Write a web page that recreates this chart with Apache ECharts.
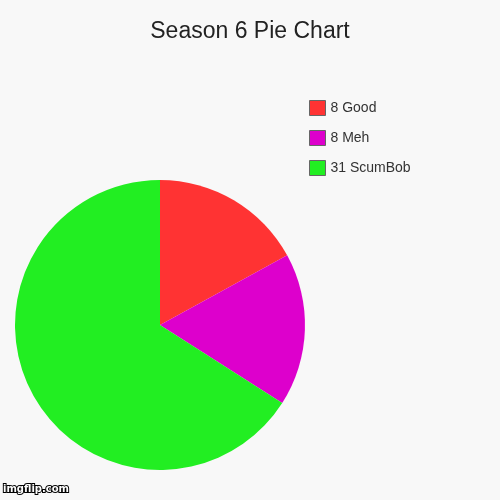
<!DOCTYPE html>
<html>
<head>
<meta charset="utf-8">
<script src="https://cdn.jsdelivr.net/npm/echarts@6/dist/echarts.min.js"></script>
<style>
    html, body { margin: 0; padding: 0; background: #f8f8f8; }
    #chart { width: 500px; height: 500px; }
</style>
</head>
<body>
<div id="chart"></div>
<script>
const categories = ['Good', 'Meh', 'ScumBob'];
const values = [8, 8, 31];
const colors = ['#ff3333', '#dd00cc', '#22ee22'];

document.addEventListener('DOMContentLoaded', function() {
    const chart = echarts.init(document.getElementById('chart'));

    const data = categories.map((name, i) => ({
        value: values[i],
        name: values[i] + ' ' + name,
        itemStyle: { color: colors[i] }
    }));

    const option = {
        backgroundColor: '#f8f8f8',
        animation: false,
        title: {
            text: 'Season 6 Pie Chart',
            left: 'center',
            top: 20,
            padding: 0,
            textStyle: {
                fontFamily: 'Liberation Sans',
                fontSize: 23,
                fontWeight: 'normal',
                color: '#222'
            }
        },
        legend: {
            orient: 'vertical',
            left: 309,
            top: 100,
            padding: 0,
            itemWidth: 16,
            itemHeight: 15,
            itemGap: 14,
            icon: 'rect',
            itemStyle: { borderColor: '#666', borderWidth: 1 },
            textStyle: {
                fontFamily: 'Liberation Sans',
                fontSize: 14,
                lineHeight: 15,
                color: '#333'
            },
            data: data.map(d => d.name)
        },
        series: [
            {
                type: 'pie',
                center: [160, 325],
                radius: 145,
                startAngle: 90,
                clockwise: true,
                label: { show: false },
                labelLine: { show: false },
                emphasis: { disabled: true },
                data: data
            }
        ],
        graphic: [
            {
                type: 'text',
                left: 2,
                top: 483,
                style: {
                    text: 'imgflip.com',
                    font: 'bold 10px "DejaVu Sans"',
                    fill: '#fff',
                    stroke: '#000',
                    lineWidth: 2
                }
            }
        ]
    };

    chart.setOption(option);
});
</script>
</body>
</html>
